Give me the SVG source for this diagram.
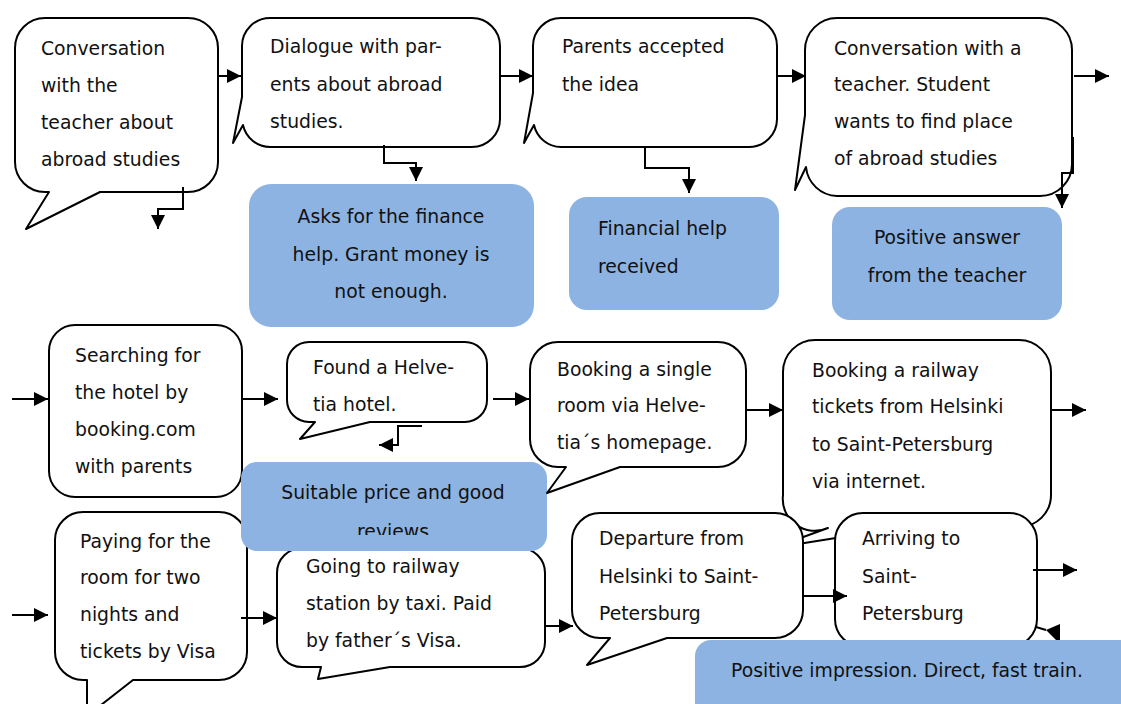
<svg xmlns="http://www.w3.org/2000/svg" width="1121" height="704" viewBox="0 0 1121 704">
<style>
.n{fill:#fff;stroke:#000;stroke-width:2;stroke-linejoin:round}
.b{fill:#8DB3E2;stroke:none}
.t{font-family:"DejaVu Sans",Verdana,sans-serif;font-size:18.8px;fill:#111}
.m{text-anchor:middle}
.c{fill:none;stroke:#000;stroke-width:2;marker-end:url(#ah)}
</style>
<defs>
<marker id="ah" markerWidth="14" markerHeight="14" refX="14" refY="7" orient="auto" markerUnits="userSpaceOnUse"><path d="M0,0 L14,7 L0,14 Z" fill="#000"/></marker>
<clipPath id="cb4"><rect x="241" y="462" width="306" height="73"/></clipPath>
</defs>
<rect width="1121" height="704" fill="#fff"/>

<g id="n1"><path class="n" d="M45,18 H188 A30,30 0 0 1 218,48 V162 A30,30 0 0 1 188,192 H100 L26,229 L49,192 H45 A30,30 0 0 1 15,162 V48 A30,30 0 0 1 45,18 Z"/>
<text class="t"><tspan x="41" y="55">Conversation</tspan><tspan x="41" y="92">with the</tspan><tspan x="41" y="129">teacher about</tspan><tspan x="41" y="166">abroad studies</tspan></text></g>

<g id="n2"><path class="n" d="M270,18 H472 A28,28 0 0 1 500,46 V119 A28,28 0 0 1 472,147 H270 A28,28 0 0 1 243,125 L233,143 L242,97 V46 A28,28 0 0 1 270,18 Z"/>
<text class="t"><tspan x="270" y="53">Dialogue with par-</tspan><tspan x="270" y="91">ents about abroad</tspan><tspan x="270" y="128">studies.</tspan></text></g>

<g id="n3"><path class="n" d="M561,18 H749 A28,28 0 0 1 777,46 V119 A28,28 0 0 1 749,147 H561 A28,28 0 0 1 534,125 L524,143 L533,93 V46 A28,28 0 0 1 561,18 Z"/>
<text class="t"><tspan x="562" y="53">Parents accepted</tspan><tspan x="562" y="91">the idea</tspan></text></g>

<g id="n4"><path class="n" d="M837,18 H1040 A32,32 0 0 1 1072,50 V164 A32,32 0 0 1 1040,196 H837 A32,32 0 0 1 806,167 L795,190 L805,115 V50 A32,32 0 0 1 837,18 Z"/>
<text class="t"><tspan x="834" y="55">Conversation with a</tspan><tspan x="834" y="91">teacher. Student</tspan><tspan x="834" y="128">wants to find place</tspan><tspan x="834" y="165">of abroad studies</tspan></text></g>

<g id="b1"><rect class="b" x="249" y="184" width="285" height="143" rx="22"/>
<text class="t m"><tspan x="391" y="223">Asks for the finance</tspan><tspan x="391" y="261">help. Grant money is</tspan><tspan x="391" y="298">not enough.</tspan></text></g>

<g id="b2"><rect class="b" x="569" y="197" width="210" height="113" rx="18"/>
<text class="t"><tspan x="598" y="235">Financial help</tspan><tspan x="598" y="273">received</tspan></text></g>

<g id="b3"><rect class="b" x="832" y="207" width="230" height="113" rx="18"/>
<text class="t m"><tspan x="947" y="244">Positive answer</tspan><tspan x="947" y="282">from the teacher</tspan></text></g>

<g id="n5"><rect class="n" x="49" y="325" width="193" height="172" rx="26"/>
<text class="t"><tspan x="75" y="362">Searching for</tspan><tspan x="75" y="399">the hotel by</tspan><tspan x="75" y="436">booking.com</tspan><tspan x="75" y="473">with parents</tspan></text></g>

<g id="n6"><path class="n" d="M309,342 H465 A22,22 0 0 1 487,364 V400 A22,22 0 0 1 465,422 H370 L300,439 L315,422 H309 A22,22 0 0 1 287,400 V364 A22,22 0 0 1 309,342 Z"/>
<text class="t"><tspan x="313" y="374">Found a Helve-</tspan><tspan x="313" y="411">tia hotel.</tspan></text></g>

<g id="n8"><path class="n" d="M815,340 H1019 A32,32 0 0 1 1051,372 V495 A32,32 0 0 1 1019,527 H905 L773,548 L828,528 A32,32 0 0 1 783,495 V372 A32,32 0 0 1 815,340 Z"/>
<text class="t"><tspan x="812" y="377">Booking a railway</tspan><tspan x="812" y="413">tickets from Helsinki</tspan><tspan x="812" y="451">to Saint-Petersburg</tspan><tspan x="812" y="488">via internet.</tspan></text></g>

<g id="n9"><path class="n" d="M83,512 H219 A28,28 0 0 1 247,540 V652 A28,28 0 0 1 219,680 H133 L87,716 V680 H83 A28,28 0 0 1 55,652 V540 A28,28 0 0 1 83,512 Z"/>
<text class="t"><tspan x="80" y="548">Paying for the</tspan><tspan x="80" y="584">room for two</tspan><tspan x="80" y="621">nights and</tspan><tspan x="80" y="658">tickets by Visa</tspan></text></g>

<g id="n10"><path class="n" d="M302,548 H520 A25,25 0 0 1 545,573 V642 A25,25 0 0 1 520,667 H390 L318,679 L321,667 H302 A25,25 0 0 1 277,642 V573 A25,25 0 0 1 302,548 Z"/>
<text class="t"><tspan x="306" y="573">Going to railway</tspan><tspan x="306" y="610">station by taxi. Paid</tspan><tspan x="306" y="647">by father´s Visa.</tspan></text></g>

<g id="b4"><rect class="b" x="241" y="462" width="306" height="89" rx="16"/>
<text class="t m" clip-path="url(#cb4)"><tspan x="393" y="499">Suitable price and good</tspan><tspan x="393" y="538">reviews</tspan></text></g>

<g id="n7"><path class="n" d="M558,342 H718 A28,28 0 0 1 746,370 V439 A28,28 0 0 1 718,467 H620 L547,493 L566,467 H558 A28,28 0 0 1 530,439 V370 A28,28 0 0 1 558,342 Z"/>
<text class="t"><tspan x="557" y="376">Booking a single</tspan><tspan x="557" y="412">room via Helve-</tspan><tspan x="557" y="449">tia´s homepage.</tspan></text></g>

<g id="n11"><path class="n" d="M600,513 H775 A28,28 0 0 1 803,541 V610 A28,28 0 0 1 775,638 H667 L587,665 L610,638 H600 A28,28 0 0 1 572,610 V541 A28,28 0 0 1 600,513 Z"/>
<text class="t"><tspan x="599" y="545">Departure from</tspan><tspan x="599" y="583">Helsinki to Saint-</tspan><tspan x="599" y="620">Petersburg</tspan></text></g>

<g id="n12"><rect class="n" x="835" y="513" width="202" height="134" rx="28"/>
<text class="t"><tspan x="862" y="545">Arriving to</tspan><tspan x="862" y="583">Saint-</tspan><tspan x="862" y="620">Petersburg</tspan></text></g>

<g id="connectors">
<path class="c" d="M218,76 H241"/>
<path class="c" d="M500,76 H533"/>
<path class="c" d="M777,76 H806"/>
<path class="c" d="M1074,76 H1109"/>
<path class="c" d="M183,187 V209 H158 V229"/>
<path class="c" d="M384,145 V163 H416 V181"/>
<path class="c" d="M645,147 V168 H689 V193"/>
<path class="c" d="M1073,137 V173 H1062 V208"/>
<path class="c" d="M12,399 H48"/>
<path class="c" d="M242,399 H278"/>
<path class="c" d="M422,426 H398 V445 H379"/>
<path class="c" d="M493,399 H529"/>
<path class="c" d="M746,410 H783"/>
<path class="c" d="M1050,410 H1086"/>
<path class="c" d="M12,615 H48"/>
<path class="c" d="M241,618 H277"/>
<path class="c" d="M545,626 H573"/>
<path class="c" d="M803,596 H847"/>
<path class="c" d="M1033,570 H1077"/>
<path d="M1036,627 L1046,630" fill="none" stroke="#000" stroke-width="2"/>
<path d="M1046,630 L1060,624 L1060,644 Z" fill="#000"/>
</g>

<g id="b5"><rect class="b" x="695" y="640" width="440" height="80" rx="16"/>
<text class="t"><tspan x="731" y="677">Positive impression. Direct, fast train.</tspan></text></g>
</svg>
